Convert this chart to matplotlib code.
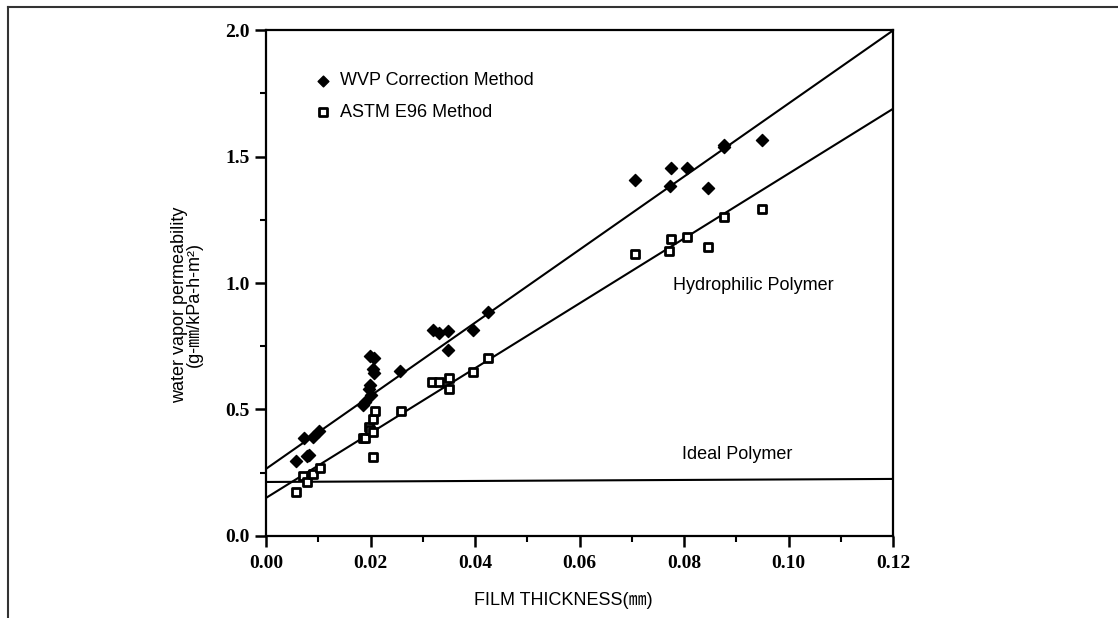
import matplotlib
matplotlib.use("Agg")
import matplotlib.pyplot as plt
from matplotlib import font_manager
from matplotlib.lines import Line2D
from matplotlib.ticker import MultipleLocator

# WVP correction method (filled diamonds)
wvp_x = [0.0057, 0.0079, 0.0082, 0.0072, 0.0089, 0.0101, 0.0186, 0.0189, 0.0197, 0.0199,
         0.0201, 0.0198, 0.0206, 0.0205, 0.0206, 0.0257, 0.0320, 0.0330, 0.0349, 0.0349,
         0.0395, 0.0424, 0.0705, 0.0772, 0.0774, 0.0805, 0.0846, 0.0877, 0.0877, 0.0948]
wvp_y = [0.296, 0.316, 0.320, 0.386, 0.389, 0.414, 0.519, 0.530, 0.582, 0.597,
         0.558, 0.711, 0.705, 0.660, 0.644, 0.652, 0.813, 0.804, 0.810, 0.735,
         0.815, 0.887, 1.407, 1.384, 1.456, 1.456, 1.375, 1.540, 1.547, 1.565]

# ASTM E96 method (open squares)
astm_x = [0.0057, 0.0071, 0.0079, 0.0089, 0.0103, 0.0185, 0.0190, 0.0197, 0.0199, 0.0204,
          0.0205, 0.0205, 0.0209, 0.0258, 0.0318, 0.0330, 0.0350, 0.0350, 0.0395, 0.0424,
          0.0705, 0.0771, 0.0775, 0.0806, 0.0846, 0.0877, 0.0948]
astm_y = [0.172, 0.236, 0.214, 0.245, 0.267, 0.386, 0.386, 0.430, 0.417, 0.311,
          0.410, 0.464, 0.493, 0.493, 0.608, 0.608, 0.625, 0.582, 0.647, 0.704,
          1.113, 1.126, 1.173, 1.184, 1.141, 1.260, 1.293]

# fitted lines (end points)
fit_x = [0.0, 0.12]
wvp_fit_y = [0.265, 2.0]
astm_fit_y = [0.15, 1.69]
ideal_y = [0.213, 0.225]

xtick_labels = ["0.00", "0.02", "0.04", "0.06", "0.08", "0.10", "0.12"]
ytick_labels = ["0.0", "0.5", "1.0", "1.5", "2.0"]

# narrow sans if it is there, else normal width at a smaller size
names = {f.name for f in font_manager.fontManager.ttflist}
if "Liberation Sans Narrow" in names:
    sans = ["Liberation Sans Narrow", "Noto Sans CJK KR", "DejaVu Sans"]
    fs = 15
else:
    sans = ["Liberation Sans", "Noto Sans CJK KR", "DejaVu Sans"]
    fs = 13

serif_bold = {"family": "Liberation Serif", "weight": "bold", "size": 14}

fig = plt.figure(figsize=(11.18, 6.18), dpi=100)
ax = fig.add_axes([0.238, 0.133, 0.561, 0.818])

ax.plot(fit_x, wvp_fit_y, color="black", lw=1.5)
ax.plot(fit_x, astm_fit_y, color="black", lw=1.5)
ax.plot(fit_x, ideal_y, color="black", lw=1.5)

ax.scatter(wvp_x, wvp_y, marker="D", s=38, color="black", zorder=3)
ax.scatter(astm_x, astm_y, marker="s", s=40, facecolor="white", edgecolor="black",
           linewidths=2.0, zorder=3)

ax.set_xlim(0, 0.12)
ax.set_ylim(0, 2.0)
ax.xaxis.set_minor_locator(MultipleLocator(0.01))
ax.yaxis.set_minor_locator(MultipleLocator(0.25))
ax.set_xticks([0.0, 0.02, 0.04, 0.06, 0.08, 0.10, 0.12])
ax.set_xticklabels(xtick_labels, fontdict=serif_bold)
ax.set_yticks([0.0, 0.5, 1.0, 1.5, 2.0])
ax.set_yticklabels(ytick_labels, fontdict=serif_bold)
ax.tick_params(which="major", direction="out", length=8, width=1.8)
ax.tick_params(which="minor", direction="out", length=4, width=1.5)
ax.tick_params(axis="x", pad=6)
for sp in ax.spines.values():
    sp.set_linewidth(1.6)

ax.set_xlabel("FILM THICKNESS(㎜)", family=sans, fontsize=fs)
ax.xaxis.set_label_coords(0.474, -0.112)
ax.set_ylabel("water vapor permeability\n(g-㎜/kPa-h-m²)", family=sans, fontsize=fs,
              linespacing=0.9)
ax.yaxis.set_label_coords(-0.100, 0.457)

# legend drawn by hand
ax.scatter([0.0109], [1.80], marker="D", s=30, color="black")
ax.scatter([0.0109], [1.676], marker="s", s=30, facecolor="white", edgecolor="black",
           linewidths=2.0)
ax.text(0.0142, 1.80, "WVP Correction Method", family=sans, fontsize=fs, va="center")
ax.text(0.0142, 1.676, "ASTM E96 Method", family=sans, fontsize=fs, va="center")

ax.text(0.0779, 0.99, "Hydrophilic Polymer", family=sans, fontsize=fs, va="center")
ax.text(0.0796, 0.32, "Ideal Polymer", family=sans, fontsize=fs, va="center")

# outer frame
fig.add_artist(Line2D([8 / 1118, 1.0], [1 - 7 / 618, 1 - 7 / 618], color="#333333", lw=1.5,
                      transform=fig.transFigure))
fig.add_artist(Line2D([8 / 1118, 8 / 1118], [0.0, 1 - 7 / 618], color="#333333", lw=1.5,
                      transform=fig.transFigure))

fig.savefig("out.png", dpi=100)
